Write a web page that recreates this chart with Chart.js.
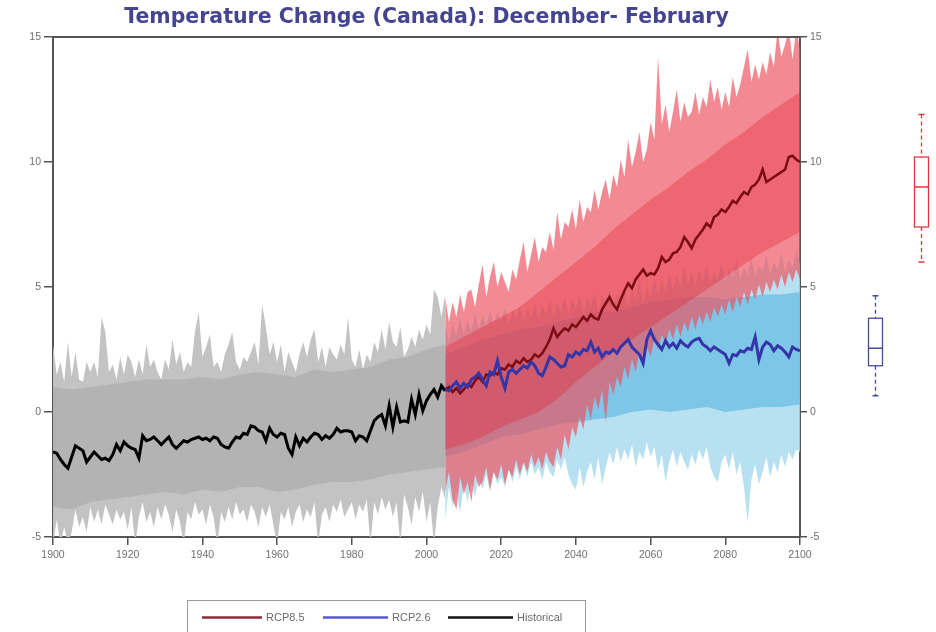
<!DOCTYPE html>
<html>
<head>
<meta charset="utf-8">
<script src="https://cdn.jsdelivr.net/npm/chart.js@4/dist/chart.umd.min.js"></script>
<style>
  html, body { margin: 0; padding: 0; background: #fff; }
  #wrap { width: 936px; height: 632px; }
</style>
</head>
<body>
<div id="wrap"><canvas id="chart" width="936" height="632"></canvas></div>
<script>
// Datos
const histStart = 1900;
const projStart = 2005;
const xTicks = [1900, 1920, 1940, 1960, 1980, 2000, 2020, 2040, 2060, 2080, 2100];
const yTicks = [-5, 0, 5, 10, 15];

// media histórica 1900-2005
const histMean = [
  -1.6,-1.65,-1.9,-2.1,-2.25,-1.8,-1.35,-1.45,-1.55,-2.0,
  -1.8,-1.6,-1.75,-1.9,-1.85,-1.95,-1.7,-1.3,-1.55,-1.2,
  -1.35,-1.45,-1.5,-1.85,-0.95,-1.15,-1.1,-1.0,-1.15,-1.3,
  -1.15,-1.0,-1.3,-1.45,-1.3,-1.15,-1.2,-1.1,-1.05,-1.0,
  -1.1,-1.05,-1.15,-1.0,-1.05,-1.3,-1.4,-1.45,-1.2,-1.0,
  -1.05,-0.85,-0.9,-0.55,-0.6,-0.75,-0.8,-1.15,-0.65,-0.9,
  -1.0,-0.85,-0.9,-1.45,-1.7,-1.0,-1.35,-1.05,-1.2,-1.0,
  -0.85,-0.9,-1.1,-0.95,-1.05,-0.9,-0.65,-0.8,-0.75,-0.75,
  -0.8,-1.15,-0.95,-1.0,-1.15,-0.75,-0.35,-0.2,-0.1,-0.55,
  0.25,-0.6,0.2,-0.4,-0.35,-0.4,0.5,-0.1,0.7,0.05,
  0.45,0.7,0.9,0.6,1.05,0.85
];
const histHi = [
  2.7,1.5,2.0,1.2,2.8,1.4,2.4,1.3,1.2,2.0,
  1.6,2.0,1.4,3.8,3.2,1.6,1.9,1.3,2.2,1.5,
  2.3,2.0,1.4,2.1,1.5,2.7,1.8,2.1,1.6,1.3,
  2.1,1.7,2.9,1.9,2.4,1.6,2.0,1.8,3.2,4.0,
  2.2,2.6,3.1,1.8,2.0,1.6,2.3,2.7,3.2,2.0,
  1.7,2.2,2.0,2.4,2.8,1.9,4.3,3.4,2.3,2.8,
  2.0,2.7,1.6,2.4,2.0,1.6,2.3,2.8,2.2,2.9,
  3.3,2.0,2.6,1.8,2.6,2.3,2.1,2.7,2.3,3.8,
  2.1,1.8,2.5,1.7,2.3,2.0,2.8,2.4,3.3,2.5,
  3.6,2.8,2.6,3.4,2.2,2.5,3.0,2.6,3.3,2.9,
  3.5,3.1,4.9,4.6,3.8,4.7
];
const histLo = [
  -5.3,-4.3,-5.3,-4.6,-5.3,-4.8,-3.9,-4.6,-4.2,-4.8,
  -3.8,-4.4,-3.9,-4.5,-3.7,-4.1,-4.5,-3.9,-4.3,-4.0,
  -4.7,-3.8,-5.3,-4.2,-3.6,-4.4,-4.0,-4.6,-3.8,-4.3,
  -3.7,-4.1,-4.8,-3.9,-4.4,-5.3,-4.0,-4.3,-3.6,-4.1,
  -3.9,-4.5,-3.7,-4.2,-5.3,-4.0,-4.4,-3.8,-4.3,-3.6,
  -4.1,-3.9,-4.4,-3.7,-4.0,-4.6,-3.8,-4.2,-3.7,-4.5,
  -5.3,-4.0,-4.3,-3.8,-4.6,-4.0,-3.7,-4.4,-3.9,-4.2,
  -3.6,-5.3,-4.1,-3.8,-4.4,-3.7,-4.0,-3.5,-4.2,-3.9,
  -3.6,-4.3,-3.7,-4.0,-3.5,-5.3,-3.6,-4.1,-3.4,-3.9,
  -3.5,-4.2,-3.6,-5.3,-3.3,-3.8,-4.5,-3.4,-4.0,-3.2,
  -4.4,-3.6,-5.3,-3.8,-3.0,-3.5
];
const histCoreYears = [1900,1905,1910,1915,1920,1925,1930,1935,1940,1945,1950,1955,1960,1965,1970,1975,1980,1985,1990,1995,2000,2005];
const histCoreHi = [1.0,0.9,1.0,1.1,1.2,1.3,1.3,1.3,1.4,1.3,1.5,1.6,1.5,1.4,1.7,1.6,1.7,1.8,2.1,2.2,2.5,2.7];
const histCoreLo = [-3.8,-3.9,-3.6,-3.5,-3.4,-3.3,-3.2,-3.3,-3.1,-3.2,-3.0,-3.0,-3.2,-3.1,-2.9,-2.8,-2.8,-2.7,-2.5,-2.4,-2.3,-2.2];

// RCP8.5 2005-2100
const rcp85Mean = [
  0.9,1.0,0.8,0.95,0.75,0.9,1.1,1.0,1.25,1.4,
  1.2,1.5,1.45,1.6,1.5,1.75,1.7,1.9,1.8,2.05,
  1.95,2.15,2.0,2.1,2.3,2.2,2.35,2.6,2.9,3.35,
  3.0,3.2,3.35,3.25,3.5,3.4,3.6,3.8,3.65,3.9,
  3.75,3.7,4.1,4.35,4.6,4.3,4.1,4.5,4.85,5.15,
  4.95,5.3,5.5,5.7,5.45,5.55,5.5,5.75,6.2,6.0,
  6.1,6.35,6.4,6.6,7.0,6.8,6.55,6.9,7.1,7.3,
  7.55,7.4,7.8,7.9,8.1,8.0,8.2,8.45,8.35,8.6,
  8.8,8.7,9.0,9.1,9.3,9.7,9.2,9.3,9.4,9.5,
  9.6,9.7,10.2,10.25,10.1,10.0
];
const rcp85Hi = [
  4.6,3.6,4.4,3.8,4.7,4.0,4.8,4.9,4.2,5.1,
  5.9,4.6,5.4,6.0,5.0,5.6,5.2,4.8,5.7,5.3,
  6.1,6.8,5.6,6.3,7.0,6.0,6.6,6.4,7.2,6.5,
  8.0,6.9,7.6,7.4,8.1,7.3,8.5,7.6,8.2,8.0,
  8.9,8.1,8.8,9.3,8.5,9.5,9.0,10.1,9.4,10.9,
  9.8,10.4,11.2,10.0,10.5,11.6,10.9,14.2,11.5,12.3,
  11.2,12.0,12.9,11.6,12.4,11.8,12.0,12.8,11.9,12.6,
  12.2,13.3,12.4,13.0,12.1,12.8,12.2,13.4,12.6,13.1,
  13.8,14.5,13.2,13.9,13.3,14.0,13.5,14.4,13.8,15.3,
  14.2,14.7,15.3,14.1,15.3,14.5
];
const rcp85Lo = [
  -3.2,-2.4,-3.5,-3.9,-2.6,-3.3,-2.8,-3.6,-2.5,-3.0,
  -2.8,-2.2,-3.1,-2.4,-2.7,-2.1,-2.9,-2.3,-2.6,-1.9,
  -2.5,-2.0,-2.4,-1.7,-2.2,-1.8,-2.3,-1.6,-2.0,-2.2,
  -1.4,-1.9,-0.9,-1.5,-0.6,-1.0,-0.2,-0.7,0.3,-0.3,
  0.6,0.1,0.9,-0.4,1.2,0.7,1.4,1.0,1.8,1.3,
  2.1,1.6,2.4,1.9,2.6,2.2,2.9,2.5,3.1,2.7,
  3.3,2.9,3.5,3.0,3.6,3.2,3.8,3.3,3.9,3.5,
  4.0,3.6,4.2,3.8,4.3,3.9,4.5,4.0,4.6,4.2,
  4.8,4.3,4.9,4.5,5.1,4.6,5.2,4.8,5.3,4.9,
  5.5,5.0,5.6,5.2,5.7,5.3
];
const projCoreYears = [2005,2010,2015,2020,2025,2030,2035,2040,2045,2050,2055,2060,2065,2070,2075,2080,2085,2090,2095,2100];
const rcp85CoreHi = [2.6,3.0,3.4,3.8,4.2,4.8,5.4,6.0,6.6,7.3,7.9,8.5,9.0,9.6,10.1,10.7,11.2,11.8,12.3,12.8];
const rcp85CoreLo = [-1.5,-1.3,-1.0,-0.6,-0.3,0.0,0.5,1.2,1.8,2.4,2.9,3.4,3.9,4.4,4.9,5.4,5.9,6.4,6.8,7.2];

// RCP2.6 2005-2100
const rcp26Mean = [
  0.9,0.85,1.05,1.2,0.95,1.15,1.0,1.3,1.4,1.55,
  1.3,1.05,1.6,1.5,2.05,1.4,0.95,1.6,1.7,1.55,
  1.7,1.85,1.75,2.0,1.85,1.55,1.45,1.8,2.2,2.1,
  1.95,1.8,1.85,2.3,2.2,2.4,2.3,2.5,2.45,2.8,
  2.4,2.55,2.2,2.4,2.35,2.5,2.35,2.6,2.75,2.9,
  2.6,2.45,2.3,1.95,2.9,3.25,2.9,2.7,2.5,2.85,
  2.6,2.75,2.55,2.85,2.7,2.6,2.8,2.9,2.95,2.7,
  2.6,2.45,2.6,2.5,2.4,2.3,1.95,2.3,2.25,2.45,
  2.4,2.55,2.5,3.0,2.1,2.6,2.8,2.7,2.45,2.65,
  2.55,2.4,2.2,2.6,2.5,2.45
];
const rcp26Hi = [
  3.5,2.8,3.6,3.0,3.8,3.1,3.7,3.2,4.0,3.3,
  3.9,3.4,4.1,3.5,4.0,3.6,4.2,3.5,4.1,3.7,
  4.3,3.6,4.2,3.8,4.4,3.7,4.3,3.9,4.5,3.8,
  4.4,4.0,4.6,3.9,4.5,4.1,4.7,3.9,4.6,4.2,
  4.8,4.0,4.7,4.3,4.9,4.1,4.8,4.4,5.0,4.2,
  4.9,4.5,5.4,4.3,5.0,4.6,5.4,4.7,5.3,4.8,
  5.6,4.9,5.5,5.0,5.8,5.1,5.6,5.0,5.7,5.2,
  5.9,5.1,5.6,5.3,6.0,5.2,5.7,5.4,6.1,5.3,
  5.8,5.5,6.2,5.4,5.9,5.6,6.3,5.5,6.0,5.7,
  6.4,5.6,6.1,5.8,6.5,5.9
];
const rcp26Lo = [
  -4.3,-3.0,-3.8,-3.2,-4.0,-2.9,-3.6,-2.8,-3.4,-2.6,
  -3.1,-2.5,-3.2,-2.4,-2.9,-2.6,-3.0,-2.3,-2.8,-2.2,
  -2.7,-2.1,-2.6,-2.0,-2.5,-2.2,-2.7,-2.0,-2.4,-2.6,
  -1.9,-2.3,-1.8,-2.5,-2.9,-3.1,-2.2,-3.0,-2.4,-2.0,
  -2.7,-1.8,-2.9,-2.2,-1.6,-2.1,-1.4,-2.0,-1.5,-1.9,
  -1.3,-2.2,-1.6,-1.9,-1.2,-1.8,-1.4,-2.3,-1.7,-2.8,
  -2.0,-1.5,-2.2,-1.6,-2.0,-2.3,-1.7,-2.1,-1.5,-1.9,
  -1.4,-2.2,-2.6,-2.8,-2.0,-1.7,-2.3,-1.6,-2.5,-2.0,
  -3.0,-4.4,-2.7,-2.1,-2.9,-2.4,-1.8,-2.6,-2.0,-2.4,
  -1.7,-2.2,-1.6,-1.9,-1.5,-1.6
];
const rcp26CoreHi = [2.3,2.6,2.9,3.1,3.3,3.4,3.6,3.8,4.0,4.0,4.2,4.4,4.5,4.6,4.6,4.5,4.6,4.7,4.7,4.8];
const rcp26CoreLo = [-1.8,-1.6,-1.3,-1.0,-0.9,-0.7,-0.5,-0.4,-0.3,-0.2,0.0,0.1,0.0,0.1,0.2,0.0,0.1,0.2,0.2,0.3];

// cajas 2081-2100: min, q1, mediana, q3, max
const box85 = [6.0, 7.4, 9.0, 10.2, 11.9];
const box26 = [0.65, 1.85, 2.55, 3.75, 4.65];

// Helpers
const serie = (start, ys) => ys.map((y, i) => ({ x: start + i, y }));
const serieEn = (xs, ys) => ys.map((y, i) => ({ x: xs[i], y }));

function banda(data, color, order, fillTo) {
  return { data, borderWidth: 0, pointRadius: 0, backgroundColor: color, fill: fillTo, order, tension: 0 };
}
function media(label, data, color, width) {
  return { label, data, borderColor: color, backgroundColor: color, borderWidth: width, pointRadius: 0, fill: false, order: 0, tension: 0 };
}

const datasets = [
  media('RCP2.6', serie(projStart, rcp26Mean), '#3535aa', 3),
  media('RCP8.5', serie(projStart, rcp85Mean), '#7a0c12', 2.5),
  media('Historical', serie(histStart, histMean), '#000000', 3),
  banda(serieEn(projCoreYears, rcp85CoreHi), 'rgba(225,35,50,0.34)', 1, '+1'),
  banda(serieEn(projCoreYears, rcp85CoreLo), 'rgba(0,0,0,0)', 1, false),
  banda(serie(projStart, rcp85Hi), 'rgba(237,82,96,0.68)', 2, '+1'),
  banda(serie(projStart, rcp85Lo), 'rgba(0,0,0,0)', 2, false),
  banda(serieEn(projCoreYears, rcp26CoreHi), 'rgba(112,193,229,0.8)', 3, '+1'),
  banda(serieEn(projCoreYears, rcp26CoreLo), 'rgba(0,0,0,0)', 3, false),
  banda(serie(projStart, rcp26Hi), 'rgba(170,218,238,0.85)', 4, '+1'),
  banda(serie(projStart, rcp26Lo), 'rgba(0,0,0,0)', 4, false),
  banda(serieEn(histCoreYears, histCoreHi), '#b3b3b3', 5, '+1'),
  banda(serieEn(histCoreYears, histCoreLo), 'rgba(0,0,0,0)', 5, false),
  banda(serie(histStart, histHi), '#c3c3c3', 6, '+1'),
  banda(serie(histStart, histLo), 'rgba(0,0,0,0)', 6, false)
];

// Extras: marco superior, cajas y leyenda
const extras = {
  id: 'extras',
  afterDraw(chart, args, opts) {
    const { ctx, chartArea: a, scales } = chart;
    const xs = scales.x, ys = scales.y;
    ctx.save();
    ctx.strokeStyle = '#555';
    ctx.lineWidth = 2;
    ctx.beginPath(); ctx.moveTo(a.left - 1, a.top); ctx.lineTo(a.right + 1, a.top); ctx.stroke();

    const caja = (xVal, vals, color) => {
      const cx = Math.round(xs.getPixelForValue(xVal)) + 0.5;
      const [lo, q1, med, q3, hi] = vals.map(v => ys.getPixelForValue(v));
      const w = 14;
      ctx.strokeStyle = color;
      ctx.lineWidth = 1.3;
      ctx.setLineDash([4, 3]);
      ctx.beginPath();
      ctx.moveTo(cx, hi); ctx.lineTo(cx, q3);
      ctx.moveTo(cx, q1); ctx.lineTo(cx, lo);
      ctx.stroke();
      ctx.setLineDash([]);
      ctx.beginPath();
      ctx.moveTo(cx - 3, hi); ctx.lineTo(cx + 3, hi);
      ctx.moveTo(cx - 3, lo); ctx.lineTo(cx + 3, lo);
      ctx.moveTo(cx - w / 2, med); ctx.lineTo(cx + w / 2, med);
      ctx.stroke();
      ctx.strokeRect(cx - w / 2, q3, w, q1 - q3);
    };
    caja(opts.boxX26, box26, '#4b4b96');
    caja(opts.boxX85, box85, '#e2383c');

    const L = opts.legend;
    ctx.strokeStyle = '#9a9a9a';
    ctx.lineWidth = 1;
    ctx.strokeRect(L.x + 0.5, L.y + 0.5, L.w, L.h);
    ctx.font = '11px "Liberation Sans", Arial, sans-serif';
    ctx.fillStyle = '#6a6a6a';
    ctx.textBaseline = 'middle';
    L.items.forEach(it => {
      const ds = chart.data.datasets.find(d => d.label === it.label);
      ctx.strokeStyle = it.color;
      ctx.lineWidth = 2.5;
      ctx.beginPath(); ctx.moveTo(it.x, L.cy); ctx.lineTo(it.x + it.len, L.cy); ctx.stroke();
      ctx.fillText(ds.label, it.x + it.len + 4, L.cy);
    });
    ctx.restore();
  }
};

const tickFont = { family: '"Liberation Sans", Arial, sans-serif', size: 10.5 };

new Chart(document.getElementById('chart'), {
  type: 'line',
  data: { datasets },
  plugins: [extras],
  options: {
    responsive: false,
    animation: false,
    devicePixelRatio: 1,
    layout: { padding: { left: 0, right: 106, top: 0, bottom: 55 } },
    scales: {
      x: {
        type: 'linear', min: 1900, max: 2100,
        afterBuildTicks: s => { s.ticks = xTicks.map(v => ({ value: v })); },
        afterFit: s => { s.height = 40; },
        ticks: { color: '#707070', font: tickFont, padding: 4, maxRotation: 0, callback: v => String(v) },
        grid: { drawOnChartArea: false, drawTicks: true, tickLength: 8, color: '#555', lineWidth: 1.5 },
        border: { display: true, color: '#555', width: 2 }
      },
      y: {
        type: 'linear', position: 'left', min: -5, max: 15,
        afterBuildTicks: s => { s.ticks = yTicks.map(v => ({ value: v })); },
        afterFit: s => { s.width = 53; },
        ticks: { color: '#707070', font: tickFont, padding: 3 },
        grid: { drawOnChartArea: false, drawTicks: true, tickLength: 9, color: '#555', lineWidth: 1.5 },
        border: { display: true, color: '#555', width: 2 }
      },
      y2: {
        type: 'linear', position: 'right', min: -5, max: 15,
        afterBuildTicks: s => { s.ticks = yTicks.map(v => ({ value: v })); },
        afterFit: s => { s.width = 30; },
        ticks: { color: '#707070', font: tickFont, padding: 3 },
        grid: { drawOnChartArea: false, drawTicks: true, tickLength: 7, color: '#555', lineWidth: 1.5 },
        border: { display: true, color: '#555', width: 2 }
      }
    },
    plugins: {
      legend: { display: false },
      tooltip: { enabled: false },
      title: {
        display: true,
        fullSize: false,
        text: 'Temperature Change (Canada): December- February',
        color: '#45458f',
        font: { family: '"DejaVu Sans", sans-serif', size: 20.5, weight: 'bold', lineHeight: 1.2 },
        padding: { top: 5, bottom: 7.4 }
      },
      filler: { propagate: false },
      extras: {
        boxX26: 2120,
        boxX85: 2132.4,
        legend: {
          x: 187, y: 600, w: 398, h: 40, cy: 617.5,
          items: [
            { label: 'RCP8.5', x: 202, len: 60, color: '#8c2b3a' },
            { label: 'RCP2.6', x: 323, len: 65, color: '#5656dc' },
            { label: 'Historical', x: 448, len: 65, color: '#111' }
          ]
        }
      }
    }
  }
});
</script>
</body>
</html>
